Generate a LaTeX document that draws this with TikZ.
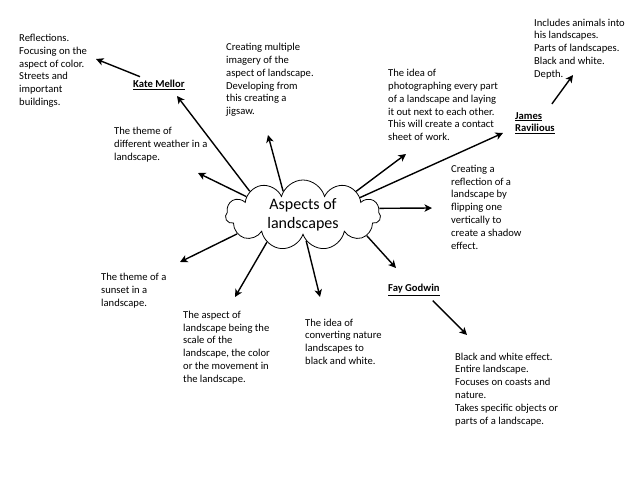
\documentclass[tikz,border=0pt]{standalone}
\usepackage{fontspec}
\setmainfont{Carlito}
\usetikzlibrary{shapes,arrows.meta,positioning}

\begin{document}
\begin{tikzpicture}[x=1pt,y=-1pt,
    note/.style={align=left,anchor=base west,inner sep=0pt,font=\fontsize{10.6}{12.8}\selectfont},
    artist/.style={note,font=\fontsize{10.6}{12.8}\selectfont\bfseries},
    arr/.style={line width=1.4pt,-{Stealth[length=7.5pt,width=7.5pt,inset=2pt]}}]
    \useasboundingbox (0,0) rectangle (638,479);

    % Central cloud
    \node [cloud,draw,line width=0.8pt,cloud puffs=11,aspect=2.3,inner sep=0pt,
           minimum width=155pt,minimum height=70pt,align=center,
           font=\fontsize{16}{19}\selectfont] (aspects) at (303,215) {Aspects of\\landscapes};

    % Artists (placed by the baseline of the last line)
    \node [artist] (kate) at (133,87.3) {\underline{Kate Mellor}};
    \node [artist] (james) at (515,131.8) {\underline{James}\\\underline{Ravilious}};
    \node [artist] (fay) at (388,291.7) {\underline{Fay Godwin}};

    % Notes (placed by the baseline of the last line)
    \node [note] (refl) at (19,105.5) {Reflections.\\Focusing on the\\aspect of color.\\Streets and\\important\\buildings.};
    \node [note] (multi) at (226,114.7) {Creating multiple\\imagery of the\\aspect of landscape.\\Developing from\\this creating a\\jigsaw.};
    \node [note] (weather) at (114,160.1) {The theme of\\different weather in a\\landscape.};
    \node [note] (contact) at (388,140.7) {The idea of\\photographing every part\\of a landscape and laying\\it out next to each other.\\This will create a contact\\sheet of work.};
    \node [note] (animals) at (534,77.2) {Includes animals into\\his landscapes.\\Parts of landscapes.\\Black and white.\\Depth.};
    \node [note] (shadow) at (451,249.1) {Creating a\\reflection of a\\landscape by\\flipping one\\vertically to\\create a shadow\\effect.};
    \node [note] (coasts) at (455,424) {Black and white effect.\\Entire landscape.\\Focuses on coasts and\\nature.\\Takes specific objects or\\parts of a landscape.};
    \node [note] (sunset) at (101,306.3) {The theme of a\\sunset in a\\landscape.};
    \node [note] (scale) at (183,382.3) {The aspect of\\landscape being the\\scale of the\\landscape, the color\\or the movement in\\the landscape.};
    \node [note] (convert) at (305,364.4) {The idea of\\converting nature\\landscapes to\\black and white.};

    % Arrow tips
    \coordinate (kateTip) at (177,96);
    \coordinate (reflTip) at (96,59);
    \coordinate (weatherTip) at (198,173);
    \coordinate (multiTip) at (268,135);
    \coordinate (contactTip) at (406,154);
    \coordinate (jamesTip) at (503,133);
    \coordinate (animalsTip) at (573,75);
    \coordinate (shadowTip) at (432,208);
    \coordinate (fayTip) at (396,268);
    \coordinate (coastsTip) at (467,335);
    \coordinate (convertTip) at (320,297);
    \coordinate (scaleTip) at (235,297);
    \coordinate (sunsetTip) at (180,262);

    % Arrows
    \draw [arr] (aspects.156) -- (kateTip);
    \draw [arr] ([xshift=7pt,yshift=3pt]kate.north west) -- (reflTip);
    \draw [arr] (aspects.162) -- (weatherTip);
    \draw [arr] (aspects.130) -- (multiTip);
    \draw [arr] (aspects.24) -- (contactTip);
    \draw [arr] (aspects.17) -- (jamesTip);
    \draw [arr] ([xshift=-3pt,yshift=8pt]james.north east) -- (animalsTip);
    \draw [arr] (aspects.5) -- (shadowTip);
    \draw [arr] (aspects.342) -- (fayTip);
    \draw [arr] ([xshift=-7pt,yshift=-5pt]fay.south east) -- (coastsTip);
    \draw [arr] (aspects.277) -- (convertTip);
    \draw [arr] (aspects.217) -- (scaleTip);
    \draw [arr] (aspects.196) -- (sunsetTip);
\end{tikzpicture}
\end{document}
